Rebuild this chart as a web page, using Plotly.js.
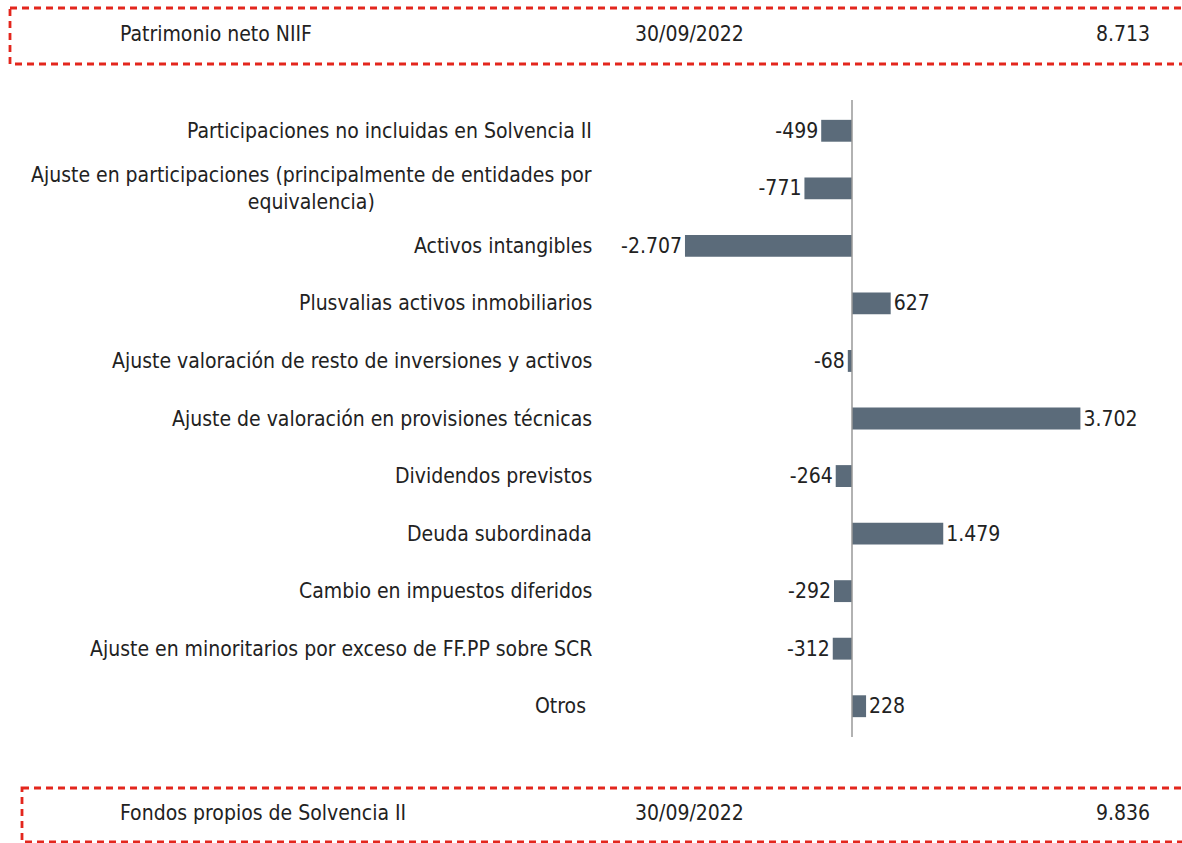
<!DOCTYPE html>
<html>
<head>
<meta charset="utf-8">
<script src="https://cdn.plot.ly/plotly-3.0.1.min.js"></script>
<style>html,body{margin:0;padding:0;background:#fff;}#chart{width:1182px;height:843px;}</style>
</head>
<body>
<div id="chart"></div>
<script>
const categories = [
  "Participaciones no incluidas en Solvencia II",
  "Ajuste en participaciones (principalmente de entidades por<br>equivalencia)",
  "Activos intangibles",
  "Plusvalias activos inmobiliarios",
  "Ajuste valoración de resto de inversiones y activos",
  "Ajuste de valoración en provisiones técnicas",
  "Dividendos previstos",
  "Deuda subordinada",
  "Cambio en impuestos diferidos",
  "Ajuste en minoritarios por exceso de FF.PP sobre SCR",
  "Otros "
];
const values = [-499, -771, -2707, 627, -68, 3702, -264, 1479, -292, -312, 228];

const headerLabels = ["Patrimonio neto NIIF", "Fondos propios de Solvencia II"];
const headerDates = ["30/09/2022", "30/09/2022"];
const headerValues = [8713, 9836];

function fmt(v) {
  const s = Math.abs(v).toString().replace(/\B(?=(\d{3})+(?!\d))/g, ".");
  return (v < 0 ? "-" : "") + s;
}

const FONT = "DejaVu Sans Condensed, Liberation Sans Narrow, sans-serif";
const FS = 21;
const W = 1182, H = 843;
const L = 610, R = 1172, T = 102, B = 735;
const px = x => (x - L) / (R - L);
const py = y => (B - y) / (B - T);

const ids = categories.map((c, i) => i);

const trace = {
  type: "bar",
  orientation: "h",
  y: ids,
  x: values,
  text: values.map(fmt),
  textposition: "outside",
  textfont: {family: FONT, size: FS, color: "#222"},
  constraintext: "none",
  cliponaxis: false,
  marker: {color: "#5b6b7a"},
  width: 0.38,
  hoverinfo: "skip"
};

const annotations = categories.map((c, i) => ({
  xref: "paper", yref: "y", x: px(594), y: i,
  xanchor: "right", yanchor: "middle", align: "center",
  text: c, showarrow: false,
  font: {family: FONT, size: FS, color: "#222"}
}));

const rowsY = [34, 813];
rowsY.forEach((yy, k) => {
  annotations.push({xref: "paper", yref: "paper", x: px(118), y: py(yy), xanchor: "left", yanchor: "middle",
    text: headerLabels[k], showarrow: false, font: {family: FONT, size: FS, color: "#222"}});
  annotations.push({xref: "paper", yref: "paper", x: px(689), y: py(yy), xanchor: "center", yanchor: "middle",
    text: headerDates[k], showarrow: false, font: {family: FONT, size: FS, color: "#222"}});
  annotations.push({xref: "paper", yref: "paper", x: px(1152), y: py(yy), xanchor: "right", yanchor: "middle",
    text: fmt(headerValues[k]), showarrow: false, font: {family: FONT, size: FS, color: "#222"}});
});

const dashLine = {color: "#e3261d", width: 2.8, dash: "7px,5px"};
const shapes = [
  {type: "rect", xref: "paper", yref: "paper", x0: px(10), x1: px(1200), y0: py(8), y1: py(64), line: dashLine},
  {type: "rect", xref: "paper", yref: "paper", x0: px(22), x1: px(1200), y0: py(788), y1: py(842), line: dashLine},
  {type: "line", xref: "x", yref: "paper", x0: 0, x1: 0, y0: py(737), y1: py(100), line: {color: "#999", width: 1.5}}
];

const layout = {
  width: W, height: H,
  margin: {l: L, r: W - R, t: T, b: H - B},
  paper_bgcolor: "#fff", plot_bgcolor: "#fff",
  showlegend: false,
  xaxis: {range: [-(852 - L) / 0.0617, (R - 852) / 0.0617], visible: false, fixedrange: true},
  yaxis: {range: [10.5, -0.5], visible: false, fixedrange: true},
  annotations: annotations,
  shapes: shapes,
  font: {family: FONT}
};

Plotly.newPlot("chart", [trace], layout, {staticPlot: true, displayModeBar: false});
</script>
</body>
</html>
